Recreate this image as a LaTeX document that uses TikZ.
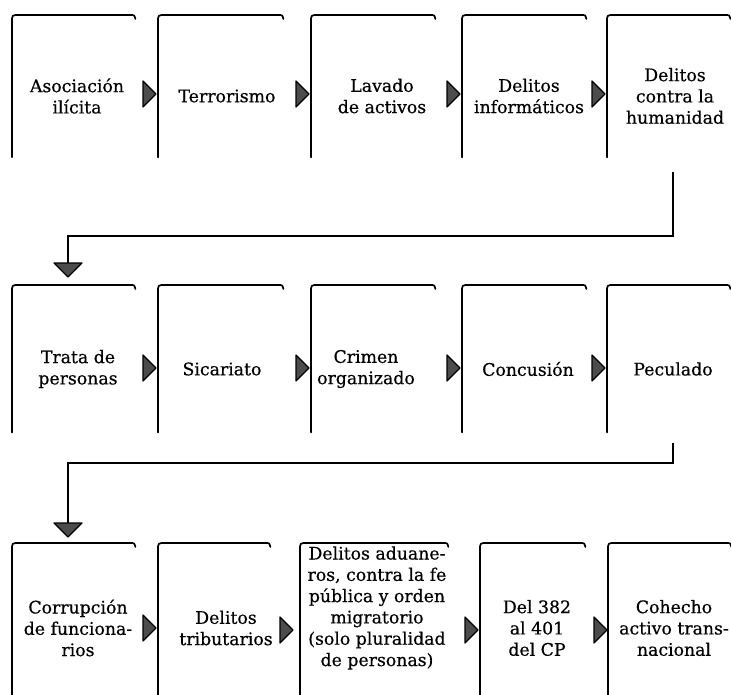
\documentclass[tikz,border=0pt]{standalone}
\usepackage{fontspec}
\setmainfont{DejaVu Serif}
\newfontfamily\casefont[FakeBold=0.5]{DejaVu Serif}
\begin{document}
\begin{tikzpicture}[x=1pt,y=-1pt,
  boxline/.style={line width=1.7pt,line cap=round,line join=round},
  flowline/.style={line width=1.5pt,line join=miter},
  tipstyle/.style={draw,line width=1.2pt,fill=black!70,line join=round},
  crimetext/.style={align=center,inner sep=0pt,font=\casefont\fontsize{17.3}{21.3}\selectfont}]

% page
\fill[white] (0,0) rectangle (731,695);
\useasboundingbox (0,0) rectangle (731,695);

% a box: open frame (left side and top edge) plus its centred label
% #1 name, #2 left, #3 right, #4 top, #5 bottom, #6 label x, #7 label y, #8 label
\newcommand\casebox[8]{%
  \node[inner sep=0pt,minimum width={#3-#2},minimum height={#5-#4},anchor=north west] (#1) at (#2,#4) {};
  \draw[boxline] (#1.south west) -- ([yshift=-7pt]#1.north west)
    .. controls (#1.north west) .. ([xshift=7pt]#1.north west)
    -- ([xshift=-5pt]#1.north east)
    .. controls ([xshift=-1pt]#1.north east) .. ([yshift=-4pt]#1.north east);
  \node[crimetext] (#1t) at (#6,#7) {#8};
}
% small triangle pointing into the next box; #1 next box, #2 height, #3 gap
\newcommand\steptip[3]{%
  \coordinate (tip) at ([xshift=-#3]#1.west |- 0,#2);
  \draw[tipstyle] (tip) -- ([xshift=-13pt,yshift=13pt]tip) -- ([xshift=-13pt,yshift=-13pt]tip) -- cycle;
}

% first row
\casebox{f11}{12}{135}{15}{157}{77}{96}{Asociación\\ilícita}
\casebox{f12}{158}{283}{15}{157}{227}{96}{Terrorismo}
\casebox{f13}{311}{435}{15}{157}{382}{96}{Lavado\\de activos}
\casebox{f14}{462}{586}{15}{157}{529}{96}{Delitos\\informáticos}
\casebox{f15}{607}{730}{15}{157}{675}{96}{Delitos\\contra la\\humanidad}
\steptip{f12}{94}{2pt}
\steptip{f13}{94}{2pt}
\steptip{f14}{94}{2pt}
\steptip{f15}{94}{2pt}

% second row
\casebox{f21}{12}{135}{285}{432}{78}{369}{Trata de\\personas}
\casebox{f22}{158}{283}{285}{432}{222}{369}{Sicariato}
\casebox{f23}{311}{435}{285}{432}{366}{369}{Crimen\\organizado}
\casebox{f24}{462}{586}{285}{432}{528}{369}{Concusión}
\casebox{f25}{607}{730}{285}{432}{673}{369}{Peculado}
\steptip{f22}{368}{2pt}
\steptip{f23}{368}{2pt}
\steptip{f24}{368}{2pt}
\steptip{f25}{368}{2pt}

% third row
\casebox{f31}{12}{135}{543}{697}{78}{628}{Corrupción\\de funciona-\\rios}
\casebox{f32}{158}{270}{543}{697}{226}{628}{Delitos\\tributarios}
\casebox{f33}{300}{448}{543}{697}{377}{608}{Delitos aduane-\\ros, contra la fe\\pública y orden\\migratorio\\(solo pluralidad\\de personas)}
\casebox{f34}{480}{585}{543}{697}{537}{628}{Del 382\\al 401\\del CP}
\casebox{f35}{608}{731}{543}{697}{674}{628}{Cohecho\\activo trans-\\nacional}
\steptip{f32}{628}{2pt}
\steptip{f33}{630}{7pt}
\steptip{f34}{630}{2pt}
\steptip{f35}{630}{1pt}

% links from the end of one row to the start of the next
\coordinate (c1) at (673,172);
\coordinate (k1) at (673,236);
\coordinate (d1) at (68,263);
\draw[flowline] (c1) -- (k1) -| (d1);
\draw[tipstyle] ([xshift=-14pt]d1) -- ([xshift=14pt]d1) -- ([yshift=-14pt]d1) -- cycle;

\coordinate (c2) at (673,443);
\coordinate (k2) at (673,463);
\coordinate (d2) at (68,523);
\draw[flowline] (c2) -- (k2) -| (d2);
\draw[tipstyle] ([xshift=-14pt]d2) -- ([xshift=14pt]d2) -- ([yshift=-14pt]d2) -- cycle;

\end{tikzpicture}
\end{document}
